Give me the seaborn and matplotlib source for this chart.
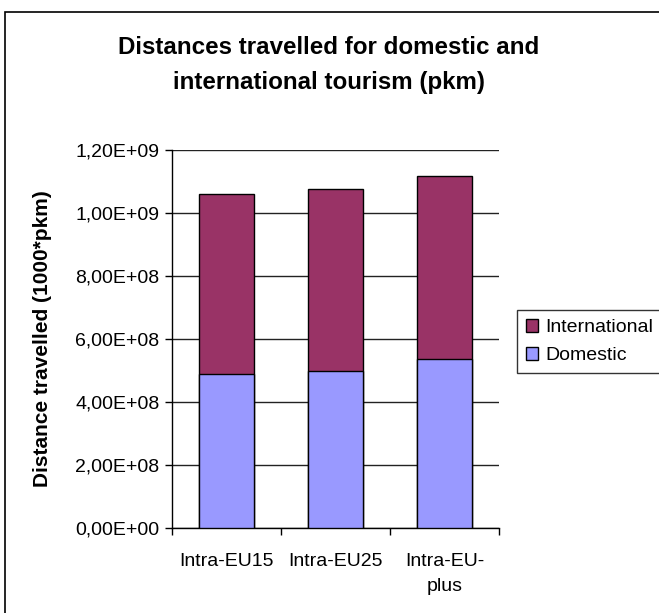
import matplotlib
matplotlib.use("Agg")
import matplotlib.pyplot as plt
from matplotlib.patches import Rectangle, Patch
from matplotlib.ticker import FuncFormatter, FixedLocator
import seaborn as sns
import pandas as pd
import numpy as np

categories = ["Intra-EU15", "Intra-EU25", "Intra-EU-plus"]
tick_labels = ["Intra-EU15", "Intra-EU25", "Intra-EU-\nplus"]
domestic = [4.88e8, 4.97e8, 5.38e8]
international = [5.72e8, 5.79e8, 5.78e8]
yticks = [0, 2e8, 4e8, 6e8, 8e8, 1.0e9, 1.2e9]

sns.set_theme(style="white")
plt.rcParams['font.family'] = ['Liberation Sans', 'DejaVu Sans']
plt.rcParams['text.color'] = 'black'

df = pd.DataFrame({"category": categories,
                   "Domestic": domestic,
                   "International": international})
df["Total"] = df["Domestic"] + df["International"]

W, H = 659, 613
fig = plt.figure(figsize=(W / 100, H / 100), dpi=100)
ax = fig.add_axes([172 / W, 1 - 528 / H, (499 - 172) / W, (528 - 150) / H])

col_int = "#993366"
col_dom = "#9999FF"

sns.barplot(data=df, x="category", y="Total", color=col_int, saturation=1,
            width=0.5, edgecolor="black", linewidth=1, ax=ax, zorder=3)
sns.barplot(data=df, x="category", y="Domestic", color=col_dom, saturation=1,
            width=0.5, edgecolor="black", linewidth=1, ax=ax, zorder=3)

ax.set_ylim(0, 1.2e9)
ax.set_xlim(-0.5, 2.5)
ax.yaxis.set_major_locator(FixedLocator(yticks))
ax.yaxis.set_major_formatter(FuncFormatter(lambda v, p: f"{v:.2E}".replace(".", ",")))
ax.grid(axis="y", color="#222222", linewidth=1, zorder=0)
ax.set_axisbelow(True)

for s in ["top", "right"]:
    ax.spines[s].set_visible(False)
for s in ["left", "bottom"]:
    ax.spines[s].set_color("black")
    ax.spines[s].set_linewidth(1)

ax.set_xticks(range(len(categories)))
ax.set_xticklabels(tick_labels, fontsize=14, linespacing=1.6, color="black")
ax.tick_params(axis="x", which="major", length=0, pad=18)
ax.set_xticks([-0.5, 0.5, 1.5, 2.5], minor=True)
ax.tick_params(axis="x", which="minor", length=5, width=1, color="black", direction="out", bottom=True)
ax.tick_params(axis="y", which="major", length=5, width=1, color="black", direction="out", left=True,
               labelsize=14, labelcolor="black", pad=4)

ax.set_xlabel("")
ax.set_ylabel("Distance travelled (1000*pkm)", fontsize=15, fontweight="bold", color="black", labelpad=16.5)

fig.text(329 / W, 1 - 48 / H, "Distances travelled for domestic and",
         ha="center", va="center", fontsize=17.4, fontweight="bold", color="black")
fig.text(329 / W, 1 - 82 / H, "international tourism (pkm)",
         ha="center", va="center", fontsize=17.4, fontweight="bold", color="black")

handles = [Patch(facecolor=col_int, edgecolor="black", linewidth=1),
           Patch(facecolor=col_dom, edgecolor="black", linewidth=1)]
leg = fig.legend(handles, ["International", "Domestic"], loc="upper left",
                 bbox_to_anchor=(517 / W, 1 - 310 / H), fontsize=14, frameon=True,
                 fancybox=False, borderpad=0.45, handlelength=0.65, handleheight=0.65,
                 handletextpad=0.35, labelspacing=0.55, borderaxespad=0)
leg.get_frame().set_edgecolor("black")
leg.get_frame().set_linewidth(1)

border = Rectangle((5 / W, -0.1), 1.2, (1 - 12 / H) + 0.1, transform=fig.transFigure,
                   fill=False, edgecolor="black", linewidth=1.2)
fig.patches.append(border)

fig.savefig("out.png", dpi=100)
